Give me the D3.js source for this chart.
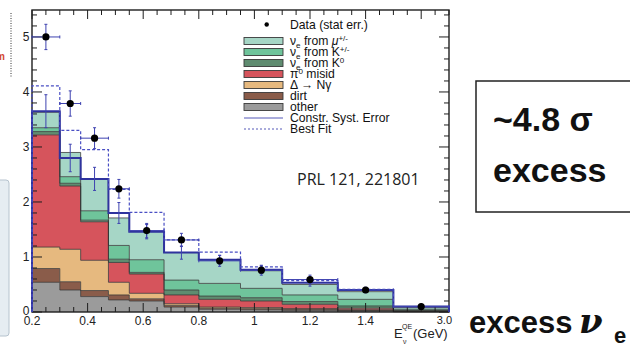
<!DOCTYPE html>
<html>
<head>
<meta charset="utf-8">
<script src="https://cdn.jsdelivr.net/npm/d3@7"></script>
<style>
  body { margin: 0; background: #fff; }
  svg { display: block; }
  text { font-family: "Liberation Sans", Arial, Helvetica, sans-serif; }
</style>
</head>
<body>
<svg id="chart" width="630" height="344"></svg>
<script>
// Reconstructed-energy bin edges (GeV); the last bin is drawn compressed
const binEdges = [0.2, 0.3, 0.375, 0.475, 0.55, 0.675, 0.8, 0.95, 1.1, 1.3, 1.5, 3.0];

// Predicted background components per bin (events/MeV), stacked bottom to top
const bgOther = [0.54, 0.40, 0.28, 0.22, 0.20, 0.09, 0.05, 0.04, 0.03, 0.02, 0.005];
const bgDirt  = [0.25, 0.15, 0.11, 0.09, 0.04, 0.03, 0.02, 0.02, 0.02, 0.01, 0.005];
const bgDelta = [0.39, 0.59, 0.55, 0.23, 0.10, 0.03, 0.02, 0.02, 0.01, 0.01, 0.005];
const bgPi0   = [2.04, 1.15, 0.70, 0.36, 0.35, 0.16, 0.14, 0.12, 0.08, 0.03, 0.005];
const bgK0    = [0.06, 0.05, 0.03, 0.06, 0.03, 0.09, 0.06, 0.06, 0.05, 0.04, 0.01];
const bgKpm   = [0.07, 0.12, 0.17, 0.25, 0.23, 0.18, 0.23, 0.17, 0.12, 0.12, 0.02];
const bgMu    = [0.28, 0.44, 0.58, 0.50, 0.52, 0.50, 0.43, 0.32, 0.19, 0.14, 0.03];

// Constrained prediction and its systematic error
const constrained = [3.65, 2.80, 2.42, 1.80, 1.46, 1.08, 0.95, 0.77, 0.53, 0.40, 0.10];
const constrErr   = [0.30, 0.25, 0.21, 0.19, 0.13, 0.12, 0.08, 0.07, 0.06, 0.04, 0.02];

// Best-fit oscillation prediction
const bestFit = [4.11, 3.30, 2.95, 2.23, 1.81, 1.31, 1.09, 0.82, 0.57, 0.41, 0.10];

// Observed data with statistical errors
const dataVal = [5.00, 3.79, 3.16, 2.24, 1.48, 1.31, 0.93, 0.76, 0.59, 0.40, 0.10];
const dataErr = [0.23, 0.23, 0.19, 0.17, 0.13, 0.12, 0.10, 0.09, 0.08, 0.05, 0.03];

// Axis labels
const xTickLabels = [0.2, 0.4, 0.6, 0.8, 1.0, 1.2, 1.4];
const xEndLabel = "3.0";
const yTickLabels = [0, 1, 2, 3, 4, 5];

const layers = [
  { key: "other", values: bgOther, color: "#9b9b9b", label: [["other"]] },
  { key: "dirt",  values: bgDirt,  color: "#8a5c4a", label: [["dirt"]] },
  { key: "delta", values: bgDelta, color: "#e6b97f", label: [["Δ → Nγ"]] },
  { key: "pi0",   values: bgPi0,   color: "#d6545c", label: [["π"], ["0", "sup"], [" misid"]] },
  { key: "k0",    values: bgK0,    color: "#5f8c70", label: [["ν"], ["e", "sub"], [" from K"], ["0", "sup"]] },
  { key: "kpm",   values: bgKpm,   color: "#6fc49b", label: [["ν"], ["e", "sub"], [" from K"], ["+/-", "sup"]] },
  { key: "mu",    values: bgMu,    color: "#a6d6c6", label: [["ν"], ["e", "sub"], [" from "], ["μ", "it"], ["+/-", "sup"]] }
];

const svg = d3.select("#chart");
const W = 630, H = 344;
svg.append("rect").attr("width", W).attr("height", H).attr("fill", "#fff");

// Plot frame
const pLeft = 32, pRight = 449, pTop = 10, pBottom = 312;

// Piecewise scale: linear up to 1.5 GeV, last bin squeezed to the edge
const xs = d3.scaleLinear().domain([0.2, 1.5, 3.0]).range([pLeft, pLeft + 1.3 * 278, pRight]);
// Linear display scale for tick marks (axis drawn as 0.2 … 1.7)
const xd = d3.scaleLinear().domain([0.2, 1.7]).range([pLeft, pRight]);
const ys = d3.scaleLinear().domain([0, 5.49]).range([pBottom, pTop]);

const blue = "#2f339e";
const errBlue = "#3e42b0";

// ---- side decorations at the left margin ----
svg.append("rect").attr("x", -4).attr("y", 180).attr("width", 13).attr("height", 156)
  .attr("rx", 3).attr("fill", "#e6edf2").attr("stroke", "#b6c3ce").attr("stroke-width", 1);
svg.append("line").attr("x1", 11).attr("x2", 11).attr("y1", 13).attr("y2", 77)
  .attr("stroke", "#333").attr("stroke-width", 1).attr("stroke-dasharray", "1,1.5");
svg.append("text").attr("x", 5).attr("y", 60).attr("text-anchor", "end")
  .attr("font-size", 10).attr("font-weight", "bold").attr("fill", "#d2452f").text("m");

// ---- stacked histogram ----
const rows = d3.range(binEdges.length - 1).map(i => {
  const r = { x0: binEdges[i], x1: binEdges[i + 1] };
  layers.forEach(l => { r[l.key] = l.values[i]; });
  return r;
});
const stacked = d3.stack().keys(layers.map(l => l.key))(rows);

const stepPts = s => {
  const pts = s.map((d, i) => ({ x: binEdges[i], y0: d[0], y1: d[1] }));
  const last = s[s.length - 1];
  pts.push({ x: binEdges[binEdges.length - 1], y0: last[0], y1: last[1] });
  return pts;
};

const area = d3.area().curve(d3.curveStepAfter)
  .x(d => xs(d.x)).y0(d => ys(d.y0)).y1(d => ys(d.y1));
const topLine = d3.line().curve(d3.curveStepAfter)
  .x(d => xs(d.x)).y(d => ys(d.y1));

const gStack = svg.append("g");
stacked.forEach((s, li) => {
  gStack.append("path").attr("d", area(stepPts(s))).attr("fill", layers[li].color);
});
stacked.forEach((s) => {
  gStack.append("path").attr("d", topLine(stepPts(s))).attr("fill", "none")
    .attr("stroke", "#353535").attr("stroke-width", 0.9).attr("stroke-opacity", 0.85);
});

// ---- frame and ticks ----
const gFrame = svg.append("g");
gFrame.append("rect").attr("x", pLeft).attr("y", pTop)
  .attr("width", pRight - pLeft).attr("height", pBottom - pTop)
  .attr("fill", "none").attr("stroke", "#1e1e1e").attr("stroke-width", 1.4);

const xTicks = d3.range(0, 31).map(i => 0.2 + i * 0.05);
xTicks.forEach((t, i) => {
  const major = i % 4 === 0;
  const len = major ? 9 : 5;
  const x = xd(t);
  gFrame.append("line").attr("x1", x).attr("x2", x).attr("y1", pTop).attr("y2", pTop + len)
    .attr("stroke", "#1e1e1e").attr("stroke-width", 1);
  gFrame.append("line").attr("x1", x).attr("x2", x).attr("y1", pBottom).attr("y2", pBottom - len)
    .attr("stroke", "#1e1e1e").attr("stroke-width", 1);
});
const yTicks = d3.range(0, 28).map(i => i * 0.2);
yTicks.forEach((t, i) => {
  const major = i % 5 === 0;
  const len = major ? 10 : 5;
  const y = ys(t);
  gFrame.append("line").attr("x1", pLeft).attr("x2", pLeft + len).attr("y1", y).attr("y2", y)
    .attr("stroke", "#1e1e1e").attr("stroke-width", 1);
  gFrame.append("line").attr("x1", pRight).attr("x2", pRight - len).attr("y1", y).attr("y2", y)
    .attr("stroke", "#1e1e1e").attr("stroke-width", 1);
});

// tick labels
const fmt = d3.format("~g");
xTickLabels.forEach(t => {
  svg.append("text").attr("x", xd(t)).attr("y", 324.5).attr("text-anchor", "middle")
    .attr("font-size", 12).attr("fill", "#222").text(fmt(t));
});
svg.append("text").attr("x", 452).attr("y", 324).attr("text-anchor", "end")
  .attr("font-size", 11).attr("fill", "#222").text(xEndLabel);
yTickLabels.forEach(t => {
  svg.append("text").attr("x", 29.5).attr("y", ys(t) + (t === 0 ? 2.5 : 4.3)).attr("text-anchor", "end")
    .attr("font-size", 12).attr("fill", "#222").text(t);
});

// x-axis title: E_ν^QE (GeV)
svg.append("text").attr("x", 394).attr("y", 338).attr("font-size", 13).attr("fill", "#222").text("E");
svg.append("text").attr("x", 402).attr("y", 328.5).attr("font-size", 7).attr("fill", "#222").text("QE");
svg.append("text").attr("x", 403).attr("y", 343.5).attr("font-size", 7).attr("fill", "#222").text("ν");
svg.append("text").attr("x", 413).attr("y", 338).attr("font-size", 13).attr("fill", "#222").text("(GeV)");

// ---- constrained prediction (blue step) ----
const stepLine = d3.line().curve(d3.curveStepAfter).x(d => xs(d.x)).y(d => ys(d.y));
const bluePts = [{ x: binEdges[0], y: 0 }]
  .concat(constrained.map((v, i) => ({ x: binEdges[i], y: v })))
  .concat([{ x: binEdges[binEdges.length - 1], y: constrained[constrained.length - 1] },
           { x: binEdges[binEdges.length - 1], y: 0 }]);
svg.append("path").attr("d", stepLine(bluePts)).attr("fill", "none")
  .attr("stroke", blue).attr("stroke-width", 2);

// ---- best fit (dashed step) ----
const fitPts = [{ x: binEdges[0], y: 0 }]
  .concat(bestFit.map((v, i) => ({ x: binEdges[i], y: v })))
  .concat([{ x: binEdges[binEdges.length - 1], y: bestFit[bestFit.length - 1] }]);
svg.append("path").attr("d", stepLine(fitPts)).attr("fill", "none")
  .attr("stroke", "#4a4fc4").attr("stroke-width", 1.2).attr("stroke-dasharray", "3,2");

// ---- error bars ----
const gErr = svg.append("g").attr("stroke", errBlue).attr("stroke-width", 1).attr("fill", "none");
function vBar(x, y0, y1, cap) {
  gErr.append("line").attr("x1", x).attr("x2", x).attr("y1", y0).attr("y2", y1);
  gErr.append("line").attr("x1", x - cap).attr("x2", x + cap).attr("y1", y0).attr("y2", y0);
  gErr.append("line").attr("x1", x - cap).attr("x2", x + cap).attr("y1", y1).attr("y2", y1);
}
function hBar(x0, x1, y, cap) {
  gErr.append("line").attr("x1", x0).attr("x2", x1).attr("y1", y).attr("y2", y);
  gErr.append("line").attr("x1", x0).attr("x2", x0).attr("y1", y - cap).attr("y2", y + cap);
  gErr.append("line").attr("x1", x1).attr("x2", x1).attr("y1", y - cap).attr("y2", y + cap);
}
const centers = d3.range(binEdges.length - 1).map(i => (xs(binEdges[i]) + xs(binEdges[i + 1])) / 2);

// systematic error on the constrained prediction
constrained.forEach((v, i) => {
  vBar(centers[i], ys(v - constrErr[i]), ys(v + constrErr[i]), 1.5);
});
// data statistical error
dataVal.forEach((v, i) => {
  vBar(centers[i], ys(v - dataErr[i]), ys(v + dataErr[i]), 1.5);
  hBar(xs(binEdges[i]), xs(binEdges[i + 1]), ys(v), 1.5);
});
// data points
svg.append("g").selectAll("circle").data(dataVal).join("circle")
  .attr("cx", (d, i) => centers[i]).attr("cy", d => ys(d)).attr("r", 3.6).attr("fill", "#000");

// ---- legend ----
const gLeg = svg.append("g");
const swX = 244, swW = 39, swH = 7, txtX = 290, legFont = 12.2;

function richText(sel, parts, size) {
  let shift = 0;
  parts.forEach(p => {
    const kind = p[1];
    let target = 0, fs = size, style = "normal";
    if (kind === "sub") { target = 2.5; fs = size * 0.66; }
    if (kind === "sup") { target = -4; fs = size * 0.66; }
    if (kind === "it") { style = "italic"; }
    sel.append("tspan").attr("dy", target - shift).attr("font-size", fs)
      .attr("font-style", style).text(p[0]);
    shift = target;
  });
}

gLeg.append("circle").attr("cx", 266.7).attr("cy", 24.5).attr("r", 2.2).attr("fill", "#000");
gLeg.append("text").attr("x", txtX).attr("y", 28.8).attr("font-size", legFont).attr("fill", "#111")
  .text("Data (stat err.)");

const legOrder = layers.slice().reverse();
legOrder.forEach((l, i) => {
  const cy = 41 + 11 * i;
  gLeg.append("rect").attr("x", swX).attr("y", cy - swH / 2).attr("width", swW).attr("height", swH)
    .attr("fill", l.color).attr("stroke", "#3a3a3a").attr("stroke-width", 0.9);
  const t = gLeg.append("text").attr("x", txtX).attr("y", cy + 4.2).attr("font-size", legFont).attr("fill", "#111");
  richText(t, l.label, legFont);
});
const lineRowY = 41 + 11 * legOrder.length;
gLeg.append("line").attr("x1", swX).attr("x2", swX + swW).attr("y1", lineRowY).attr("y2", lineRowY)
  .attr("stroke", "#5558b8").attr("stroke-width", 1);
gLeg.append("text").attr("x", txtX).attr("y", lineRowY + 4.2).attr("font-size", legFont).attr("fill", "#111")
  .text("Constr. Syst. Error");
const fitRowY = lineRowY + 11;
gLeg.append("line").attr("x1", swX).attr("x2", swX + swW).attr("y1", fitRowY).attr("y2", fitRowY)
  .attr("stroke", "#5558b8").attr("stroke-width", 1).attr("stroke-dasharray", "2,2");
gLeg.append("text").attr("x", txtX).attr("y", fitRowY + 4.2).attr("font-size", legFont).attr("fill", "#111")
  .text("Best Fit");

// reference tag
svg.append("text").attr("x", 297).attr("y", 185).attr("font-size", 16)
  .style("font-family", "'Open Sans', 'Noto Sans', sans-serif").attr("fill", "#222")
  .text("PRL 121, 221801");

// ---- annotation box on the right ----
svg.append("rect").attr("x", 476).attr("y", 81).attr("width", 170).attr("height", 131)
  .attr("fill", "#fff").attr("stroke", "#222").attr("stroke-width", 1.5);
svg.append("text").attr("x", 493).attr("y", 131).attr("font-size", 34).attr("font-weight", "bold")
  .attr("fill", "#111").text("~4.8 σ");
svg.append("text").attr("x", 493).attr("y", 182).attr("font-size", 34).attr("font-weight", "bold")
  .attr("fill", "#111").text("excess");

// ---- bottom caption ----
svg.append("text").attr("x", 469).attr("y", 333).attr("font-size", 31).attr("font-weight", "bold")
  .attr("fill", "#111").text("excess");
svg.append("text").attr("x", 579).attr("y", 333).attr("font-size", 34).attr("font-style", "italic")
  .attr("font-weight", "bold").style("font-family", "'DejaVu Serif', 'Liberation Serif', serif")
  .attr("fill", "#111").text("ν");
svg.append("text").attr("x", 614).attr("y", 343).attr("font-size", 22).attr("font-weight", "bold")
  .attr("fill", "#111").text("e");
</script>
</body>
</html>
